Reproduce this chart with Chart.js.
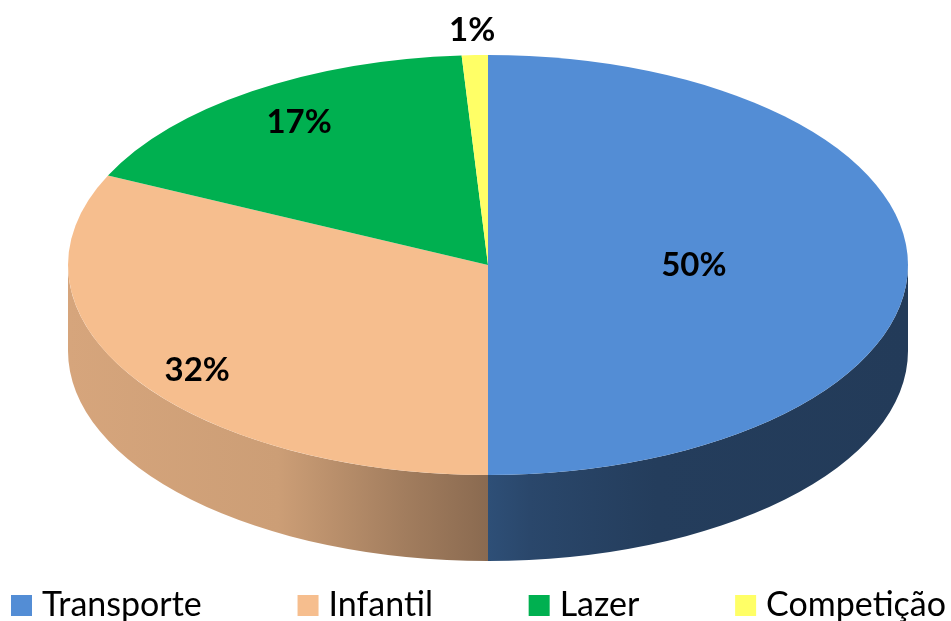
<!DOCTYPE html>
<html>
<head>
<meta charset="utf-8">
<script src="https://cdn.jsdelivr.net/npm/chart.js@4"></script>
<style>
html, body { margin: 0; padding: 0; background: #fff; }
#wrap { width: 951px; height: 621px; position: relative; }
</style>
</head>
<body>
<div id="wrap"><canvas id="myChart"></canvas></div>
<script>
var categories = ['Transporte', 'Infantil', 'Lazer', 'Competição'];
var shares = [50, 32, 17, 1];
var sliceColors = ['#538DD5', '#F6BE8E', '#00B050', '#FFFF66'];

// where each % label sits, as a fraction of the ellipse radii (x, y)
var labelSpots = [[0.49, 0.0], [0.82, 0.94], [0.80, 0.82], [1.2, 1.12]];

// brightness of the side wall going left -> right
var wallLight = [[0, 0.87], [0.25, 0.83], [0.4, 0.66], [0.5, 0.56], [0.55, 0.5], [0.7, 0.43], [1, 0.42]];

function shade(hex, k) {
	var n = parseInt(hex.slice(1), 16);
	var r = Math.round(((n >> 16) & 255) * k);
	var g = Math.round(((n >> 8) & 255) * k);
	var b = Math.round((n & 255) * k);
	return 'rgb(' + r + ',' + g + ',' + b + ')';
}

var pie3d = {
	id: 'pie3d',
	beforeDatasetsDraw: function(chart, args, o) {
		var ctx = chart.ctx;
		var meta = chart.getDatasetMeta(0);
		ctx.save();
		// front wall, only where the slice faces the viewer
		meta.data.forEach(function(arc, i) {
			var p = arc.getProps(['startAngle', 'endAngle'], true);
			var a0 = Math.max(p.startAngle, 0);
			var a1 = Math.min(p.endAngle, Math.PI);
			if (a1 <= a0) return;
			var grad = ctx.createLinearGradient(o.cx - o.rx, 0, o.cx + o.rx, 0);
			wallLight.forEach(function(s) { grad.addColorStop(s[0], shade(sliceColors[i], s[1])); });
			ctx.beginPath();
			ctx.ellipse(o.cx, o.cy, o.rx, o.ry, 0, a0, a1);
			ctx.ellipse(o.cx, o.cy + o.depth, o.rx, o.ry, 0, a1, a0, true);
			ctx.closePath();
			ctx.fillStyle = grad;
			ctx.fill();
		});
		// squash the pie into the tilted top face
		var first = meta.data[0].getProps(['x', 'y', 'outerRadius'], true);
		ctx.translate(o.cx, o.cy);
		ctx.scale(o.rx / first.outerRadius, o.ry / first.outerRadius);
		ctx.translate(-first.x, -first.y);
	},
	afterDatasetsDraw: function(chart, args, o) {
		var ctx = chart.ctx;
		ctx.restore();
		var meta = chart.getDatasetMeta(0);
		ctx.save();
		ctx.font = 'bold 33px Lato';
		ctx.fillStyle = '#000';
		ctx.textAlign = 'center';
		ctx.textBaseline = 'middle';
		meta.data.forEach(function(arc, i) {
			var p = arc.getProps(['startAngle', 'endAngle'], true);
			var mid = (p.startAngle + p.endAngle) / 2;
			var x = o.cx + Math.cos(mid) * o.rx * labelSpots[i][0];
			var y = o.cy + Math.sin(mid) * o.ry * labelSpots[i][1];
			ctx.fillText(shares[i] + '%', x, y);
		});
		ctx.restore();
	},
	afterDraw: function(chart, args, o) {
		// legend row along the bottom
		var ctx = chart.ctx;
		ctx.save();
		ctx.font = '34px Lato';
		ctx.textBaseline = 'alphabetic';
		ctx.textAlign = 'left';
		var box = 21, gapText = 10;
		var widths = categories.map(function(c) { return box + gapText + ctx.measureText(c).width; });
		var total = widths.reduce(function(a, b) { return a + b; }, 0);
		var gap = (o.legendRight - o.legendLeft - total) / (categories.length - 1);
		var x = o.legendLeft;
		categories.forEach(function(c, i) {
			ctx.fillStyle = sliceColors[i];
			ctx.fillRect(x, o.legendY - box, box, box);
			ctx.fillStyle = '#000';
			ctx.fillText(c, x + box + gapText, o.legendY);
			x += widths[i] + gap;
		});
		ctx.restore();
	}
};

var ctx = document.getElementById('myChart');
var myPieChart = new Chart(ctx, {
	type: 'pie',
	data: {
		labels: categories,
		datasets: [{
			data: shares,
			backgroundColor: sliceColors,
			borderWidth: 0,
			clip: false
		}]
	},
	options: {
		responsive: true,
		maintainAspectRatio: false,
		animation: false,
		plugins: {
			legend: { display: false },
			tooltip: { enabled: false },
			pie3d: { cx: 488, cy: 265, rx: 420, ry: 210, depth: 86, legendLeft: 11, legendRight: 946, legendY: 616 }
		}
	},
	plugins: [pie3d]
});
</script>
</body>
</html>
